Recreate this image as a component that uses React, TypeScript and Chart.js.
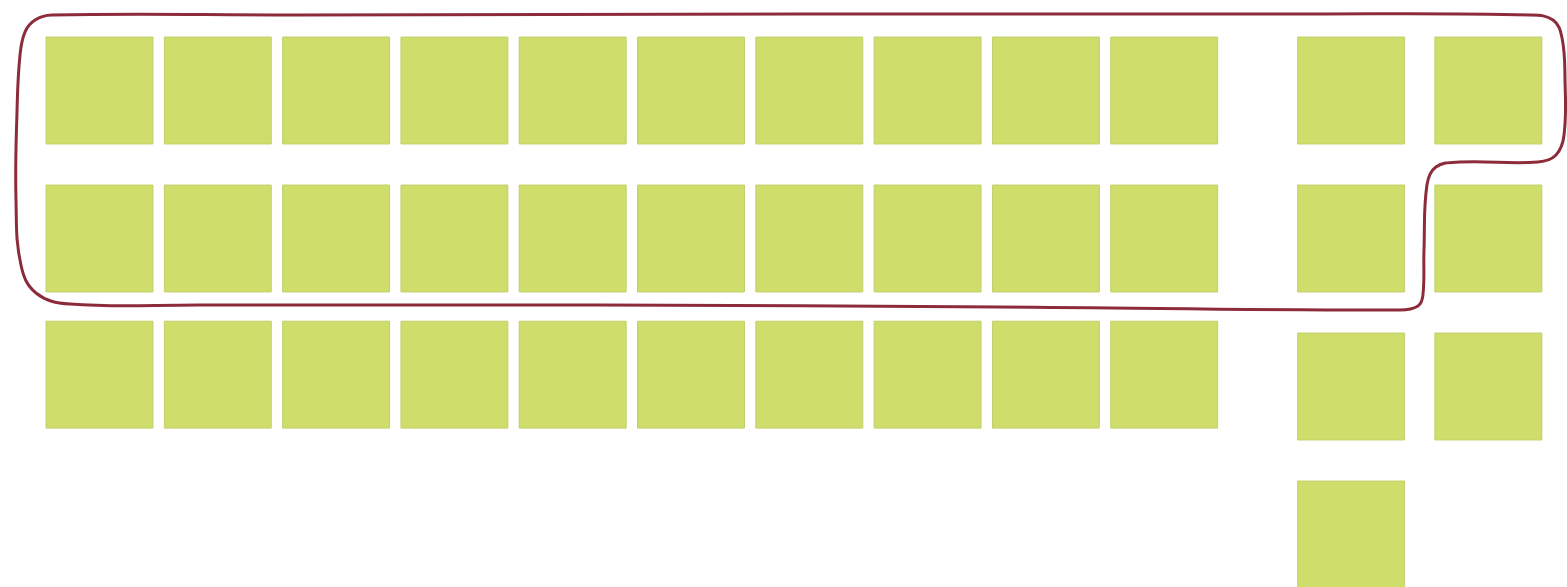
import React, { useEffect, useRef } from "react";
import { Chart, registerables } from "chart.js";

Chart.register(...registerables);

// Grid units: one unit = one block column / one block row.
const leftColumns = [0, 1, 2, 3, 4, 5, 6, 7, 8, 9];
const leftRows = [0, 1, 1.92];
const rightColumns = [10.58, 11.74];
const rightColumnRows = [
  [0, 1, 2, 3],
  [0, 1, 2],
];

// Hand-drawn outline around the first twenty blocks plus the upper right ones
const outlineX = [
  5.921, 10.148, 12.092, 12.287, 12.363, 12.388, 12.38, 12.312, 12.16, 11.499,
  11.297, 11.221, 11.196, 11.187, 11.145, 10.993, 7.612, 4.231, 0.85, -0.249,
  -0.537, -0.664, -0.706, -0.697, -0.672, -0.63, -0.545, -0.402, 1.695, 5.921,
];
const outlineY = [
  -0.517, -0.517, -0.51, -0.476, -0.355, -0.071, 0.301, 0.436, 0.483, 0.483,
  0.517, 0.639, 1.078, 1.382, 1.456, 1.483, 1.463, 1.449, 1.449, 1.443, 1.368,
  1.179, 0.74, 0.132, -0.24, -0.395, -0.476, -0.51, -0.51, -0.517,
];

const X_MIN = -0.8411;
const X_MAX = 12.4049;
const Y_MIN = -0.6115;
const Y_MAX = 3.3547;

export default function App() {
  const ref = useRef<HTMLCanvasElement | null>(null);

  useEffect(() => {
    if (!ref.current) return;
    const leftPoints: { x: number; y: number }[] = [];
    leftRows.forEach((r) => leftColumns.forEach((c) => leftPoints.push({ x: c, y: r })));
    const rightPoints: { x: number; y: number }[] = [];
    rightColumns.forEach((c, i) => rightColumnRows[i].forEach((r) => rightPoints.push({ x: c, y: r })));
    const outline = outlineX.map((x, i) => ({ x, y: outlineY[i] }));

    const squareStyle = {
      pointStyle: "rect" as const,
      pointRadius: 75.6,
      pointHoverRadius: 75.6,
      backgroundColor: "#cfdd6b",
      borderColor: "#c2cf6c",
      borderWidth: 1,
      showLine: false,
      clip: false as const,
    };

    const chart = new Chart(ref.current, {
      type: "scatter",
      data: {
        datasets: [
          {
            label: "outline",
            data: outline,
            showLine: true,
            borderColor: "#8c2c3a",
            borderWidth: 3,
            pointRadius: 0,
            pointHoverRadius: 0,
            tension: 0.4,
            fill: false,
            clip: false as const,
            order: 0,
          },
          { label: "tens", data: leftPoints, ...squareStyle, order: 1 },
          { label: "ones", data: rightPoints, ...squareStyle, order: 1 },
        ],
      },
      options: {
        animation: false,
        responsive: false,
        maintainAspectRatio: false,
        layout: { padding: 0, autoPadding: false },
        plugins: { legend: { display: false }, tooltip: { enabled: false } },
        events: [],
        scales: {
          x: { type: "linear", display: false, min: X_MIN, max: X_MAX },
          y: { type: "linear", display: false, reverse: true, min: Y_MIN, max: Y_MAX },
        },
      },
    });
    return () => chart.destroy();
  }, []);

  return (
    <div style={{ position: "absolute", left: 0, top: 0, width: 1567, height: 587, background: "#ffffff" }}>
      <canvas ref={ref} width={1567} height={587} />
    </div>
  );
}
